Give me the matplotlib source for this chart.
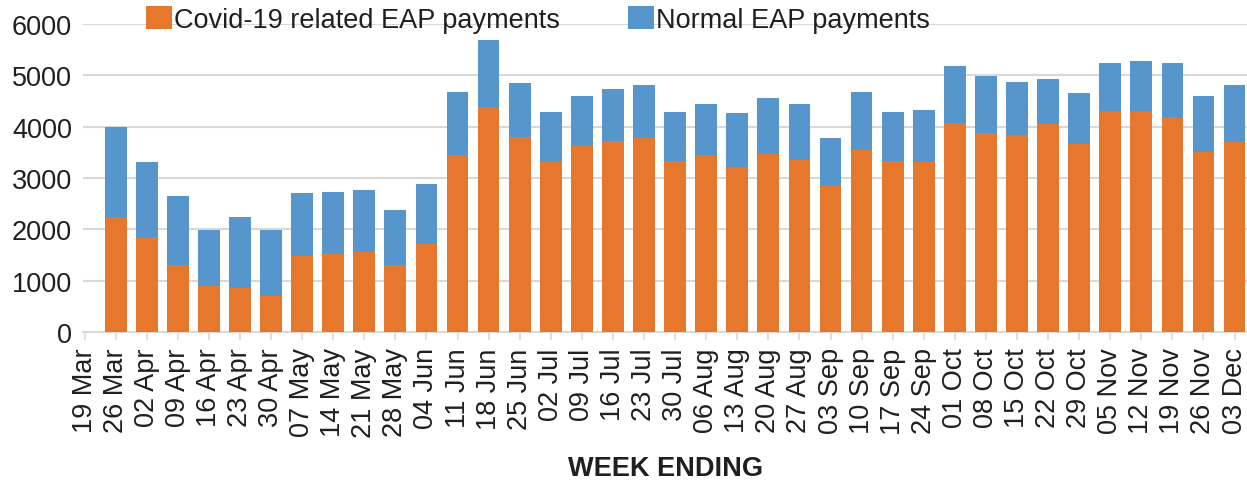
import numpy as np
import matplotlib
matplotlib.use("Agg")
import matplotlib.pyplot as plt

plt.rcParams['font.family'] = ['Liberation Sans', 'DejaVu Sans']

weeks = ["19 Mar", "26 Mar", "02 Apr", "09 Apr", "16 Apr", "23 Apr", "30 Apr",
         "07 May", "14 May", "21 May", "28 May", "04 Jun", "11 Jun", "18 Jun",
         "25 Jun", "02 Jul", "09 Jul", "16 Jul", "23 Jul", "30 Jul", "06 Aug",
         "13 Aug", "20 Aug", "27 Aug", "03 Sep", "10 Sep", "17 Sep", "24 Sep",
         "01 Oct", "08 Oct", "15 Oct", "22 Oct", "29 Oct", "05 Nov", "12 Nov",
         "19 Nov", "26 Nov", "03 Dec"]

covid_payments = [0, 2250, 1825, 1310, 890, 860, 710, 1490, 1510, 1560, 1310, 1710,
                  3450, 4390, 3805, 3305, 3620, 3730, 3770, 3325, 3450, 3215, 3460,
                  3345, 2840, 3550, 3325, 3305, 4070, 3870, 3845, 4045, 3660, 4310,
                  4310, 4180, 3505, 3710]

normal_payments = [0, 1740, 1480, 1330, 1100, 1375, 1280, 1220, 1225, 1215, 1060, 1175,
                   1220, 1290, 1055, 980, 985, 1010, 1035, 960, 1000, 1050, 1100,
                   1105, 940, 1120, 960, 1015, 1120, 1115, 1030, 875, 990, 925,
                   970, 1055, 1100, 1095]

y_ticks = [0, 1000, 2000, 3000, 4000, 5000, 6000]

ORANGE = '#E6782E'
BLUE = '#5796CD'
GRID = '#D9D9D9'
TEXT = '#1F1F1F'
FS = 19.5

W, H = 1247, 481
fig = plt.figure(figsize=(W / 100, H / 100), dpi=100)
ax = fig.add_axes([83 / W, 1 - 333 / H, (W - 83) / W, (333 - 25) / H])

x = np.arange(len(weeks))
cov = np.array(covid_payments, dtype=float)
nor = np.array(normal_payments, dtype=float)

ax.bar(x, cov, width=0.7, color=ORANGE, label='Covid-19 related EAP payments', zorder=3)
ax.bar(x, nor, width=0.7, bottom=cov, color=BLUE, label='Normal EAP payments', zorder=3)

ax.set_xlim(-0.05, 37.4)
ax.set_ylim(0, 6000)
ax.set_yticks(y_ticks)
ax.set_yticklabels([str(v) for v in y_ticks], fontsize=FS, color=TEXT)
ax.tick_params(axis='y', length=0, pad=8)
ax.set_xticks(x)
ax.set_xticklabels(weeks, rotation=90, fontsize=FS, color=TEXT)
ax.tick_params(axis='x', length=6, width=1.2, color=GRID, pad=5)

ax.grid(axis='y', color=GRID, linewidth=1.5, zorder=0)
ax.set_axisbelow(True)
for s in ['top', 'right', 'left']:
    ax.spines[s].set_visible(False)
ax.spines['bottom'].set_color(GRID)
ax.spines['bottom'].set_linewidth(1.5)

ax.set_xlabel('WEEK ENDING', fontsize=FS, fontweight='bold', color=TEXT)
ax.xaxis.set_label_coords(0.5, (481 - 469 - 148) / 308)
ax.xaxis.label.set_va('center')

leg = ax.legend(loc='center', bbox_to_anchor=(0.391, 1.016), ncol=2, frameon=False,
                fontsize=FS, handlelength=0.95, handleheight=0.95,
                handletextpad=0.1, columnspacing=2.5, labelcolor=TEXT)

fig.savefig('out.png', dpi=100)
